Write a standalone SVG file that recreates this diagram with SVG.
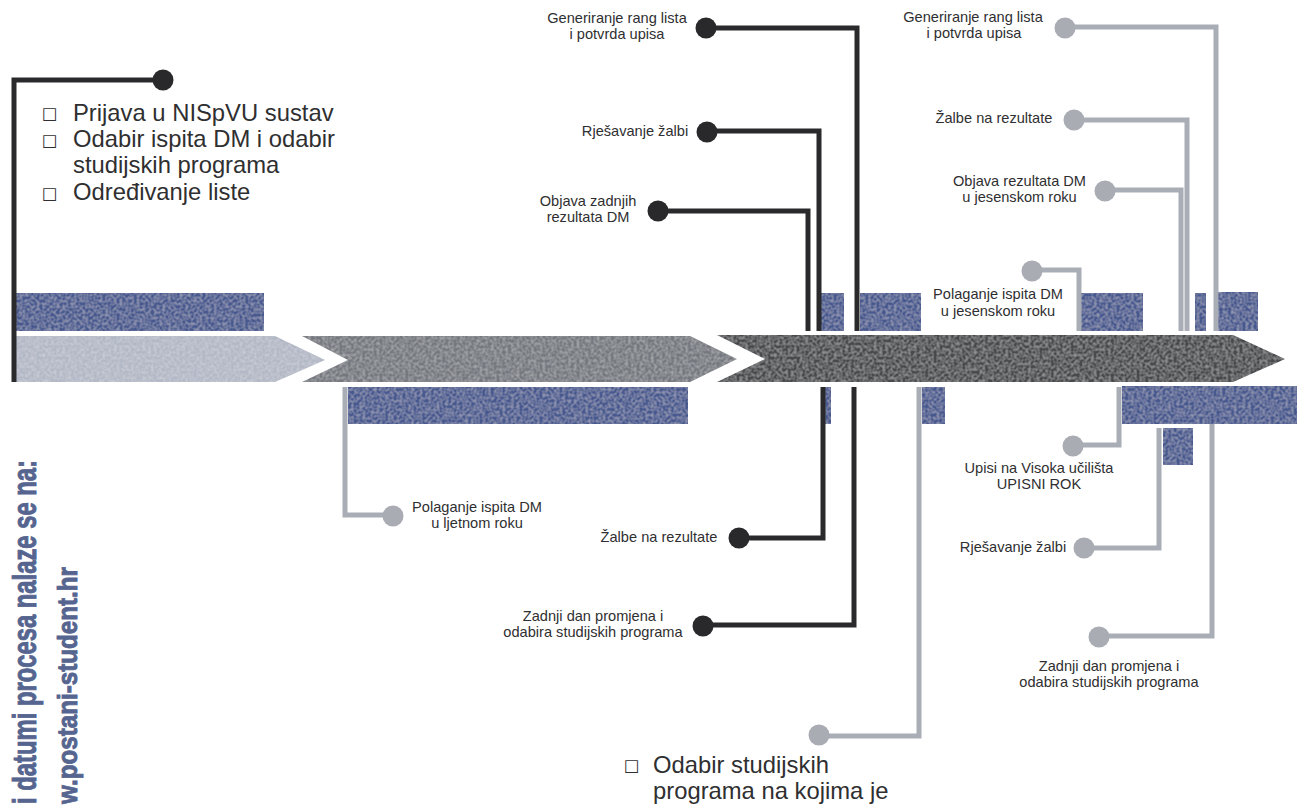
<svg xmlns="http://www.w3.org/2000/svg" width="1297" height="805" viewBox="0 0 1297 805">
<style>
text{font-family:"Liberation Sans",Arial,sans-serif;fill:#2f2f31}
.s{font-size:14.6px;text-anchor:middle}
.b{font-size:23.8px}
.q{font-family:"DejaVu Sans",sans-serif;font-size:16.5px}
.v{font-weight:bold;fill:#56658f;stroke:#56658f;stroke-width:.9}
.bar{fill:#47598f}
.dk{fill:none;stroke:#2a2a2c;stroke-width:5}
.gr{fill:none;stroke:#a9adb6;stroke-width:5}
.dd{fill:#29292b}
.gd{fill:#a9acb3}
.tex{filter:url(#grain)}
</style>
<defs>
<filter id="grain" x="0" y="0" width="100%" height="100%">
<feTurbulence type="fractalNoise" baseFrequency="0.35" numOctaves="1" seed="4" result="n"/>
<feColorMatrix in="n" type="matrix" values="0 0 0 0 1  0 0 0 0 1  0 0 0 0 1  0.5 0 0 0 -0.17" result="w"/>
<feComposite in="w" in2="SourceAlpha" operator="in" result="sp"/>
<feMerge><feMergeNode in="SourceGraphic"/><feMergeNode in="sp"/></feMerge>
</filter>
</defs>
<rect width="1297" height="805" fill="#fff"/>
<g id="bars" class="tex">
<rect class="bar" x="16" y="293" width="248" height="38"/>
<rect class="bar" x="820" y="293" width="24" height="38"/>
<rect class="bar" x="860" y="293" width="61" height="38"/>
<rect class="bar" x="1081" y="293" width="62" height="38"/>
<rect class="bar" x="1195" y="293" width="11" height="38"/>
<rect class="bar" x="1218" y="292" width="40" height="39"/>
<rect class="bar" x="348" y="387" width="340" height="37"/>
<rect class="bar" x="822" y="387" width="9" height="37"/>
<rect class="bar" x="922" y="387" width="23" height="37"/>
<rect class="bar" x="1122" y="386" width="175" height="38"/>
<rect class="bar" x="1163" y="428" width="30" height="37"/>
</g>
<g id="arrows" class="tex">
<polygon id="arrow1" points="16,336 275,336 325,360 275,382 16,382" fill="#b3b8c6"/>
<polygon id="arrow2" points="302,336 690,336 737,359 690,382 302,382 348,360" fill="#75787f"/>
<polygon id="arrow3" points="717,335 1233,335 1285,359 1233,382 717,382 765,359" fill="#46484c"/>
</g>
<g id="connectors">
<path class="dk" d="M14 382V80H163"/>
<path class="dk" d="M857 331V28H706"/>
<path class="dk" d="M819 331V131H707"/>
<path class="dk" d="M808 331V211H658"/>
<path class="dk" d="M823 387V538H739"/>
<path class="dk" d="M854 387V625H703"/>
<path class="gr" d="M1216 331V27H1065"/>
<path class="gr" d="M1187 331V120H1074"/>
<path class="gr" d="M1181 331V190H1105"/>
<path class="gr" d="M1079 331V270H1032"/>
<path class="gr" d="M345 387V515H393"/>
<path class="gr" d="M919 387V736H819"/>
<path class="gr" d="M1119 387V445H1073"/>
<path class="gr" d="M1159 428V548H1084"/>
<path class="gr" d="M1212 424V636H1099"/>
</g>
<g id="n-prijava">
<circle class="dd" cx="163" cy="80" r="10.5"/>
<text class="q" x="42" y="119">□</text><text class="b" x="73" y="121">Prijava u NISpVU sustav</text>
<text class="q" x="42" y="146">□</text><text class="b" x="73" y="147">Odabir ispita DM i odabir</text>
<text class="b" x="73" y="173">studijskih programa</text>
<text class="q" x="42" y="199">□</text><text class="b" x="73" y="200">Određivanje liste</text>
</g>
<g id="n-gen1"><circle class="dd" cx="706" cy="28" r="10.5"/><text class="s" x="617" y="23">Generiranje rang lista</text><text class="s" x="617" y="39">i potvrda upisa</text></g>
<g id="n-rje1"><circle class="dd" cx="707" cy="132" r="10.5"/><text class="s" x="635" y="136">Rješavanje žalbi</text></g>
<g id="n-obj1"><circle class="dd" cx="658" cy="211" r="10.5"/><text class="s" x="588" y="206">Objava zadnjih</text><text class="s" x="588" y="222">rezultata DM</text></g>
<g id="n-zal1"><circle class="dd" cx="739" cy="538" r="10.5"/><text class="s" x="659" y="542">Žalbe na rezultate</text></g>
<g id="n-zad1"><circle class="dd" cx="703" cy="626" r="10.5"/><text class="s" x="593" y="621">Zadnji dan promjena i</text><text class="s" x="593" y="637">odabira studijskih programa</text></g>
<g id="n-gen2"><circle class="gd" cx="1065" cy="28" r="10.5"/><text class="s" x="973" y="22">Generiranje rang lista</text><text class="s" x="974" y="38">i potvrda upisa</text></g>
<g id="n-zal2"><circle class="gd" cx="1074" cy="120" r="10.5"/><text class="s" x="994" y="123">Žalbe na rezultate</text></g>
<g id="n-obj2"><circle class="gd" cx="1105" cy="191" r="10.5"/><text class="s" x="1019.500" y="186">Objava rezultata DM</text><text class="s" x="1019.500" y="202">u jesenskom roku</text></g>
<g id="n-pol2"><circle class="gd" cx="1032" cy="271" r="10.5"/><text class="s" x="998" y="299">Polaganje ispita DM</text><text class="s" x="998" y="316">u jesenskom roku</text></g>
<g id="n-pol1"><circle class="gd" cx="393" cy="516" r="10.5"/><text class="s" x="477" y="512">Polaganje ispita DM</text><text class="s" x="477" y="528">u ljetnom roku</text></g>
<g id="n-upi"><circle class="gd" cx="1073" cy="446" r="10.5"/><text class="s" x="1039" y="473">Upisi na Visoka učilišta</text><text class="s" x="1039" y="489">UPISNI ROK</text></g>
<g id="n-rje2"><circle class="gd" cx="1084" cy="548" r="10.5"/><text class="s" x="1013" y="552">Rješavanje žalbi</text></g>
<g id="n-zad2"><circle class="gd" cx="1099" cy="637" r="10.5"/><text class="s" x="1109" y="671">Zadnji dan promjena i</text><text class="s" x="1109" y="687">odabira studijskih programa</text></g>
<g id="n-odabir"><circle class="gd" cx="819" cy="735" r="10.5"/>
<text class="q" x="624" y="771">□</text><text class="b" x="653" y="773">Odabir studijskih</text>
<text class="b" x="653" y="799">programa na kojima je</text></g>
<g id="side">
<text class="v" transform="translate(36 804) rotate(-90)" font-size="33" textLength="344" lengthAdjust="spacingAndGlyphs">i datumi procesa nalaze se na:</text>
<text class="v" transform="translate(77 804) rotate(-90)" font-size="28" textLength="237" lengthAdjust="spacingAndGlyphs">w.postani-student.hr</text>
</g>
</svg>
